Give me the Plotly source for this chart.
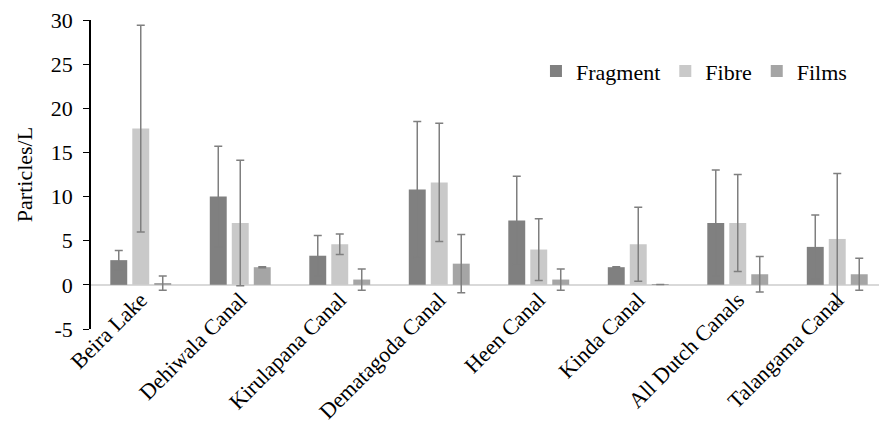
import plotly.graph_objects as go

categories = ["Beira Lake", "Dehiwala Canal", "Kirulapana Canal", "Dematagoda Canal",
              "Heen Canal", "Kinda Canal", "All Dutch Canals", "Talangama Canal"]
fragment = [2.8, 10.0, 3.3, 10.8, 7.3, 2.0, 7.0, 4.3]
fragment_err = [1.1, 5.7, 2.3, 7.7, 5.0, 0.05, 6.0, 3.6]
fibre = [17.7, 7.0, 4.6, 11.6, 4.0, 4.6, 7.0, 5.2]
fibre_err = [11.7, 7.1, 1.15, 6.7, 3.5, 4.2, 5.5, 7.4]
films = [0.2, 2.0, 0.6, 2.4, 0.6, 0.05, 1.2, 1.2]
films_err = [0.8, 0.05, 1.2, 3.3, 1.2, 0.0, 2.0, 1.8]
y_ticks = [-5, 0, 5, 10, 15, 20, 25, 30]
y_tick_text = ["-5", "0", "5", "10", "15", "20", "25", "30"]

FONT = "Liberation Serif"
FS = 22
ERR = dict(type="data", thickness=1.5, width=4, color="#7f7f7f")

fig = go.Figure()
for name, vals, errs, col in [
    ("Fragment", fragment, fragment_err, "#808080"),
    ("Fibre", fibre, fibre_err, "#c9c9c9"),
    ("Films", films, films_err, "#a5a5a5"),
]:
    fig.add_trace(go.Bar(
        name=name, x=categories, y=vals,
        error_y=dict(array=errs, **ERR),
        marker=dict(color=col, line=dict(width=0)),
    ))

# the page body has an 8px margin, so the figure is 8px smaller than the window
fig.update_layout(
    width=879, height=424,
    margin=dict(l=83, r=0, t=12, b=103, autoexpand=False),
    paper_bgcolor="white", plot_bgcolor="white",
    barmode="group", bargap=0.337, bargroupgap=0.23,
    font=dict(family=FONT, size=FS, color="black"),
    showlegend=True,
    legend=dict(orientation="h", x=0.559, y=0.834, xanchor="left", yanchor="middle",
                font=dict(family=FONT, size=FS), bgcolor="rgba(0,0,0,0)",
                itemwidth=30, tracegroupgap=0),
    xaxis=dict(anchor="free", position=0.153, showline=False, ticks="",
               tickangle=-45, showgrid=False, zeroline=False, automargin=False,
               ticklabeloverflow="allow",
               tickfont=dict(family=FONT, size=FS)),
    yaxis=dict(range=[-5, 30], tickvals=y_ticks, ticktext=y_tick_text,
               ticks="outside", ticklen=6, automargin=False,
               ticklabeloverflow="allow",
               tickcolor="black", showline=True, linecolor="black", linewidth=1.5,
               showgrid=False, zeroline=True, zerolinecolor="#d9d9d9", zerolinewidth=1.5,
               ticklabelstandoff=6,
               title=dict(text="Particles/L", standoff=12, font=dict(family=FONT, size=FS)),
               tickfont=dict(family=FONT, size=FS)),
)

fig.write_html("out.html")
